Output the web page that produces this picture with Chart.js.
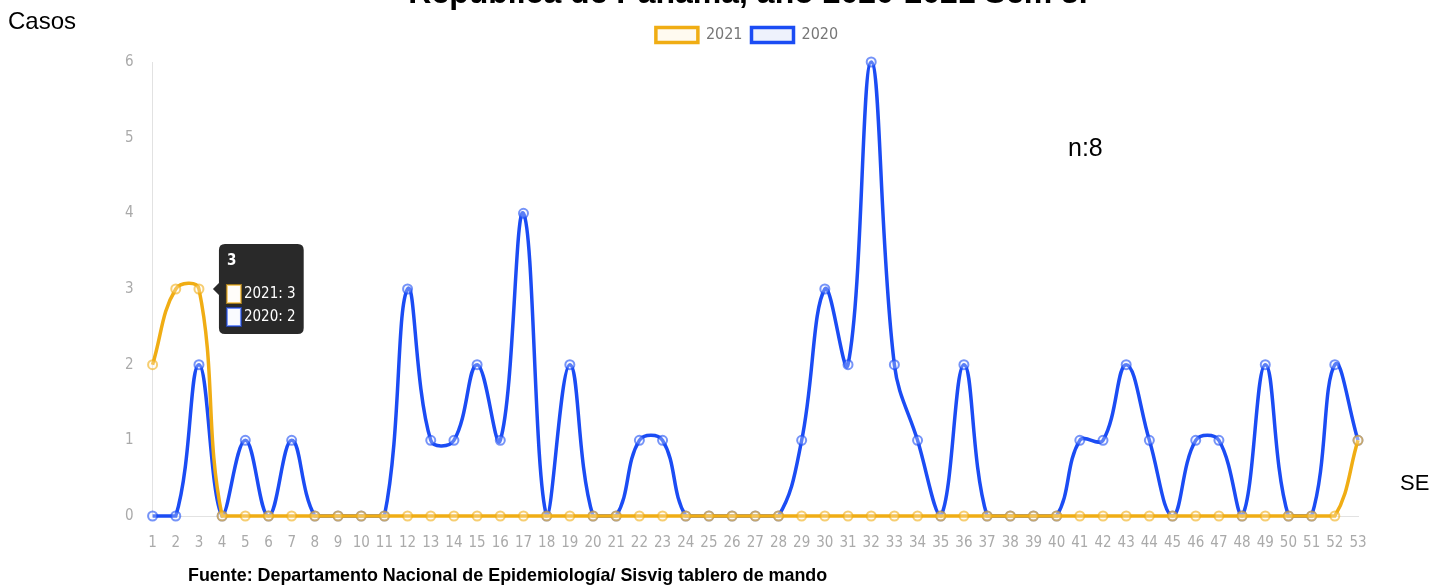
<!DOCTYPE html>
<html>
<head>
<meta charset="utf-8">
<script src="https://cdn.jsdelivr.net/npm/chart.js@4"></script>
<style>
  body { margin: 0; background: #fff; }
  #wrap { position: relative; width: 1429px; height: 588px; overflow: hidden; }
  #grafico { position: absolute; left: 0; top: 0; }
  .txt { position: absolute; color: #000; white-space: nowrap; font-family: 'Liberation Sans', Arial, sans-serif; }
  #titulo { left: 0; width: 1496px; text-align: center; top: -26px; font-size: 32px; font-weight: bold; }
  #casos { left: 8px; top: 7px; font-size: 24px; }
  #n { left: 1068px; top: 133px; font-size: 25px; }
  #se { left: 1400px; top: 470px; font-size: 22px; }
  #fuente { left: 188px; top: 565px; font-size: 17.9px; font-weight: bold; }
</style>
</head>
<body>
<div id="wrap">
  <canvas id="grafico" width="1429" height="588"></canvas>
  <div class="txt" id="titulo">República de Panamá, año 2020-2021 Sem 3.</div>
  <div class="txt" id="casos">Casos</div>
  <div class="txt" id="n">n:8</div>
  <div class="txt" id="se">SE</div>
  <div class="txt" id="fuente">Fuente: Departamento Nacional de Epidemiología/ Sisvig tablero de mando</div>
</div>
<script>
// semanas epidemiologicas
const semanas = [];
for (let s = 1; s <= 53; s++) semanas.push(String(s));

const casos2021 = [2, 3, 3, 0, 0, 0, 0, 0, 0, 0,
                   0, 0, 0, 0, 0, 0, 0, 0, 0, 0,
                   0, 0, 0, 0, 0, 0, 0, 0, 0, 0,
                   0, 0, 0, 0, 0, 0, 0, 0, 0, 0,
                   0, 0, 0, 0, 0, 0, 0, 0, 0, 0,
                   0, 0, 1];
const casos2020 = [0, 0, 2, 0, 1, 0, 1, 0, 0, 0,
                   0, 3, 1, 1, 2, 1, 4, 0, 2, 0,
                   0, 1, 1, 0, 0, 0, 0, 0, 1, 3,
                   2, 6, 2, 1, 0, 2, 0, 0, 0, 0,
                   1, 1, 2, 1, 0, 1, 1, 0, 2, 0,
                   0, 2, 1];
const yTicks = [0, 1, 2, 3, 4, 5, 6];

const naranja = '#f0ad14';
const azul = '#1b4cf4';
const fuenteEje = "'DejaVu Sans Condensed', 'Liberation Sans Narrow', 'Roboto', sans-serif";

Chart.Tooltip.positioners.primero = function (items) {
  if (!items.length) return false;
  const el = items.find(i => i.datasetIndex === 0) || items[0];
  return { x: el.element.x, y: el.element.y };
};

// espacio extra debajo de la leyenda y leyenda un poco a la derecha
const margenLeyenda = {
  id: 'margenLeyenda',
  beforeInit(chart) {
    const fitOrig = chart.legend.fit;
    chart.legend.fit = function () {
      fitOrig.bind(chart.legend)();
      this.height += 9;
    };
  },
  afterLayout(chart) {
    chart.legend.left += 11;
    chart.legend.right += 11;
  }
};

const chart = new Chart(document.getElementById('grafico'), {
  type: 'line',
  data: {
    labels: semanas,
    datasets: [{
      label: '2021',
      data: casos2021,
      borderColor: naranja,
      backgroundColor: '#fffaf0',
      borderWidth: 3.5,
      tension: 0.4,
      pointRadius: 4.5,
      pointBorderWidth: 2,
      pointBorderColor: 'rgba(240,173,20,0.6)',
      pointBackgroundColor: 'rgba(255,250,240,0.3)',
      clip: false
    }, {
      label: '2020',
      data: casos2020,
      borderColor: azul,
      backgroundColor: '#eef2fc',
      borderWidth: 3.5,
      tension: 0.4,
      pointRadius: 4.5,
      pointBorderWidth: 2,
      pointBorderColor: 'rgba(27,76,244,0.6)',
      pointBackgroundColor: 'rgba(238,242,252,0.3)',
      clip: false
    }]
  },
  options: {
    responsive: false,
    animation: false,
    layout: { padding: { left: 114, right: 71, top: 18, bottom: 26 } },
    interaction: { mode: 'index', intersect: false },
    plugins: {
      legend: {
        labels: {
          boxWidth: 42,
          boxHeight: 15,
          color: '#777',
          font: { family: fuenteEje, size: 16 },
          padding: 9
        }
      },
      tooltip: {
        position: 'primero',
        xAlign: 'left',
        yAlign: 'center',
        backgroundColor: 'rgba(30,30,30,0.95)',
        titleFont: { family: fuenteEje, size: 15, weight: 'bold' },
        bodyFont: { family: fuenteEje, size: 15 },
        titleMarginBottom: 15,
        bodySpacing: 5,
        padding: 8,
        caretSize: 6,
        caretPadding: 14,
        cornerRadius: 6,
        boxWidth: 14,
        boxHeight: 18,
        boxPadding: 1
      }
    },
    scales: {
      x: {
        grid: { display: false },
        border: { display: true, color: '#e2e2e2' },
        ticks: {
          color: '#aaa',
          font: { family: fuenteEje, size: 15 },
          maxRotation: 0,
          autoSkip: false,
          padding: 10
        }
      },
      y: {
        min: 0,
        max: 6,
        grid: { display: false },
        border: { display: true, color: '#e2e2e2' },
        afterBuildTicks: ax => { ax.ticks = yTicks.map(v => ({ value: v })); },
        ticks: {
          color: '#aaa',
          font: { family: fuenteEje, size: 15 },
          padding: 11
        }
      }
    }
  },
  plugins: [margenLeyenda]
});

chart.tooltip.setActiveElements([
  { datasetIndex: 0, index: 2 },
  { datasetIndex: 1, index: 2 }
], { x: 0, y: 0 });
chart.update();
</script>
</body>
</html>
